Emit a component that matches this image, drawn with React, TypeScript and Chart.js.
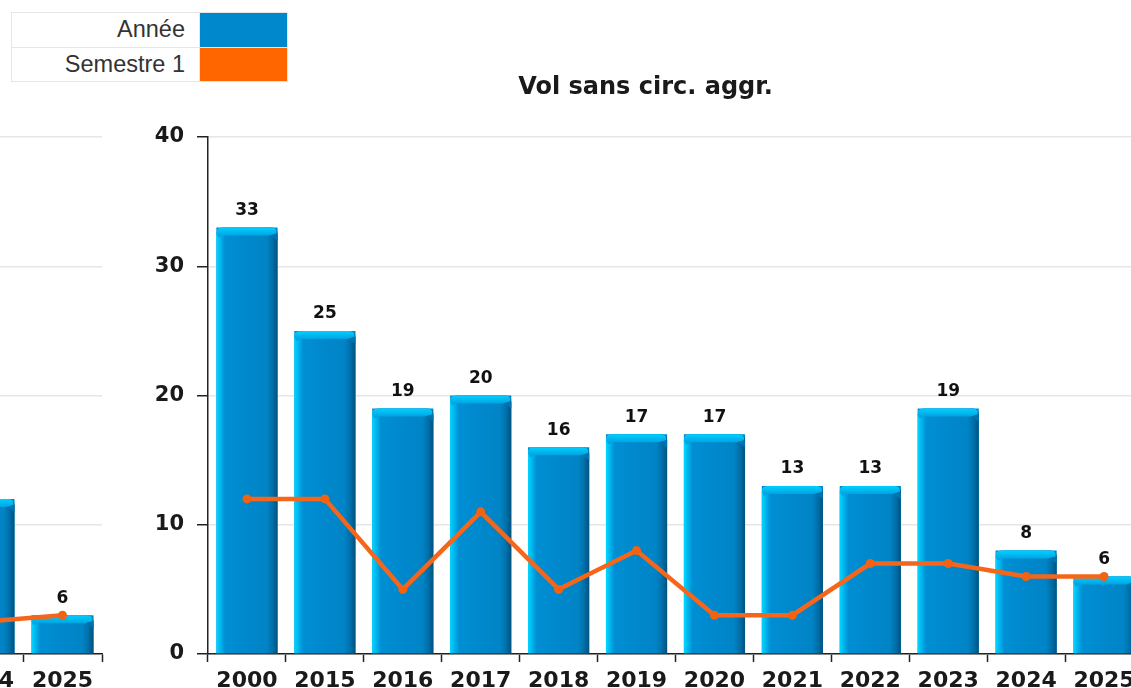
import React, { useEffect, useRef } from 'react';
import { Chart, registerables } from 'chart.js';

Chart.register(...registerables);

// ---------- data ----------
const seriesNames = ['Année', 'Semestre 1'];
const seriesColors = ['#0088cc', '#ff6600'];
const chartTitle = 'Vol sans circ. aggr.';

const categories = ['2000', '2015', '2016', '2017', '2018', '2019', '2020', '2021', '2022', '2023', '2024', '2025'];
const anneeValues = [33, 25, 19, 20, 16, 17, 17, 13, 13, 19, 8, 6];
const semestreValues = [12, 12, 5, 11, 5, 8, 3, 3, 7, 7, 6, 6];
const mainYMax = 40;
const mainYStep = 10;

// partially visible neighbouring chart (only the visible categories)
const leftCategories = ['2024', '2025'];
const leftAnneeValues = [24, 6];
const leftSemestreValues = [5, 6];
const leftYMax = 80;
const leftYStep = 20;

// ---------- styling helpers ----------
const FONT = '"DejaVu Sans", Verdana, sans-serif';
const INK = '#1a1a1a';

function barPath(ctx: CanvasRenderingContext2D, l: number, r: number, top: number, base: number, rad: number) {
  ctx.beginPath();
  ctx.moveTo(l, base);
  ctx.lineTo(l, top + rad);
  ctx.quadraticCurveTo(l, top, l + rad, top);
  ctx.lineTo(r - rad, top);
  ctx.quadraticCurveTo(r, top, r, top + rad);
  ctx.lineTo(r, base);
  ctx.closePath();
}

const bevelPlugin = {
  id: 'bevel',
  afterDatasetDraw(chart: any, args: any) {
    const meta = args.meta;
    if (meta.type !== 'bar') return;
    const ctx: CanvasRenderingContext2D = chart.ctx;
    const area = chart.chartArea;
    ctx.save();
    ctx.beginPath();
    ctx.rect(area.left, area.top - 40, area.right - area.left, area.bottom - area.top + 40);
    ctx.clip();
    meta.data.forEach((el: any) => {
      const { x, y, base, width } = el.getProps(['x', 'y', 'base', 'width'], true);
      const l = x - width / 2;
      const r = x + width / 2;
      const top = y;
      const rad = 6;
      const g = ctx.createLinearGradient(l, 0, r, 0);
      g.addColorStop(0, '#00d8ff');
      g.addColorStop(0.06, '#00b8f0');
      g.addColorStop(0.14, '#008fd4');
      g.addColorStop(0.5, '#0088cc');
      g.addColorStop(0.82, '#0084c6');
      g.addColorStop(0.92, '#006ea8');
      g.addColorStop(1, '#00527e');
      ctx.fillStyle = g;
      barPath(ctx, l, r, top, base, rad);
      ctx.fill();
      // top cap
      const cap = 8;
      const g2 = ctx.createLinearGradient(0, top, 0, top + cap);
      g2.addColorStop(0, '#00d0ff');
      g2.addColorStop(1, '#00a4e2');
      ctx.fillStyle = g2;
      ctx.beginPath();
      ctx.moveTo(l, top + rad);
      ctx.quadraticCurveTo(l, top, l + rad, top);
      ctx.lineTo(r - rad, top);
      ctx.quadraticCurveTo(r, top, r - 1, top + rad);
      ctx.lineTo(r - cap, top + cap);
      ctx.lineTo(l + cap, top + cap);
      ctx.lineTo(l + 2, top + cap + 2);
      ctx.closePath();
      ctx.fill();
      // right bevel corner (darker)
      ctx.fillStyle = '#0072ad';
      ctx.beginPath();
      ctx.moveTo(r - 1, top + rad);
      ctx.lineTo(r, top + rad + 1);
      ctx.lineTo(r, top + cap + 5);
      ctx.lineTo(r - cap, top + cap);
      ctx.closePath();
      ctx.fill();
    });
    ctx.restore();
  },
  afterDatasetsDraw(chart: any) {
    const ctx: CanvasRenderingContext2D = chart.ctx;
    chart.data.datasets.forEach((ds: any, i: number) => {
      if (ds.type !== 'bar') return;
      const meta = chart.getDatasetMeta(i);
      ctx.save();
      ctx.font = `bold 17px ${FONT}`;
      ctx.fillStyle = '#111';
      ctx.textAlign = 'center';
      ctx.textBaseline = 'alphabetic';
      meta.data.forEach((el: any, j: number) => {
        ctx.fillText(String(ds.data[j]), el.x, el.y - 12.5);
      });
      ctx.restore();
    });
  },
};

function makeConfig(
  labels: string[],
  bars: number[],
  line: number[],
  yMax: number,
  yStep: number,
  opts: { padLeft: number; padRight: number; padTop: number; yWidth: number; title?: string }
): any {
  return {
    data: {
      labels,
      datasets: [
        {
          type: 'line',
          label: seriesNames[1],
          data: line,
          borderColor: '#f6661a',
          backgroundColor: seriesColors[1],
          borderWidth: 4.5,
          pointRadius: 4.5,
          pointBackgroundColor: '#f26210',
          pointBorderWidth: 0,
          tension: 0,
          order: 0,
        },
        {
          type: 'bar',
          label: seriesNames[0],
          data: bars,
          backgroundColor: seriesColors[0],
          barPercentage: 0.785,
          categoryPercentage: 1,
          order: 1,
        },
      ],
    },
    options: {
      animation: false,
      responsive: false,
      devicePixelRatio: 1,
      layout: { padding: { left: opts.padLeft, right: opts.padRight, top: opts.padTop, bottom: 0 } },
      plugins: {
        legend: { display: false },
        tooltip: { enabled: false },
        title: opts.title
          ? {
              display: true,
              text: opts.title,
              color: INK,
              font: { family: FONT, size: 24, weight: 'bold' },
              padding: { top: 73.6, bottom: 34.6 },
            }
          : { display: false },
      },
      scales: {
        x: {
          offset: true,
          grid: {
            display: true,
            offset: true,
            drawOnChartArea: false,
            drawTicks: true,
            tickLength: 8,
            tickColor: '#222',
            tickWidth: 1.5,
          },
          border: { display: true, color: '#222', width: 1.5 },
          ticks: {
            color: INK,
            padding: 6,
            font: { family: FONT, size: 22, weight: 'bold' },
            maxRotation: 0,
            autoSkip: false,
          },
          afterFit: (s: any) => {
            s.height = 34;
          },
        },
        y: {
          min: 0,
          max: yMax,
          ticks: {
            stepSize: yStep,
            color: INK,
            padding: 13,
            font: { family: FONT, size: 21, weight: 'bold' },
          },
          grid: {
            color: '#e6e6e6',
            lineWidth: 1.5,
            drawTicks: true,
            tickLength: 11,
            tickColor: '#222',
            tickWidth: 1.5,
          },
          border: { display: true, color: '#222', width: 1.5 },
          afterFit: (s: any) => {
            s.width = opts.yWidth;
          },
        },
      },
    },
    plugins: [bevelPlugin],
  };
}

function ChartCanvas({ config, width, height, style }: { config: any; width: number; height: number; style: React.CSSProperties }) {
  const ref = useRef<HTMLCanvasElement | null>(null);
  useEffect(() => {
    if (!ref.current) return;
    const chart = new Chart(ref.current, config);
    return () => chart.destroy();
  }, [config]);
  return <canvas ref={ref} width={width} height={height} style={{ position: 'absolute', display: 'block', ...style }} />;
}

const mainConfig = makeConfig(categories, anneeValues, semestreValues, mainYMax, mainYStep, {
  padLeft: 148,
  padRight: 17,
  padTop: 0,
  yWidth: 60,
  title: chartTitle,
});

const leftConfig = makeConfig(leftCategories, leftAnneeValues, leftSemestreValues, leftYMax, leftYStep, {
  padLeft: 0,
  padRight: 18,
  padTop: 137,
  yWidth: 244,
});

function Legend() {
  const cell: React.CSSProperties = {
    border: '1px solid #e6e6e6',
    padding: 0,
    height: 33.5,
  };
  return (
    <table
      style={{
        position: 'absolute',
        left: 11,
        top: 12,
        borderCollapse: 'collapse',
        fontFamily: '"Liberation Sans", Arial, sans-serif',
        fontSize: 23.5,
        color: '#333',
        background: '#fff',
        zIndex: 2,
      }}
    >
      <tbody>
        {seriesNames.map((name, i) => (
          <tr key={name}>
            <td style={{ ...cell, width: 173, textAlign: 'right', paddingRight: 14 }}>{name}</td>
            <td style={{ ...cell, width: 87, background: seriesColors[i] }} />
          </tr>
        ))}
      </tbody>
    </table>
  );
}

export default function App() {
  return (
    <div style={{ position: 'fixed', left: 0, top: 0, width: 1131, height: 688, overflow: 'hidden', background: '#fff' }}>
      <ChartCanvas config={leftConfig} width={420} height={688} style={{ left: -300, top: 0 }} />
      <ChartCanvas config={mainConfig} width={1160} height={688} style={{ left: 0, top: 0 }} />
      <Legend />
    </div>
  );
}
